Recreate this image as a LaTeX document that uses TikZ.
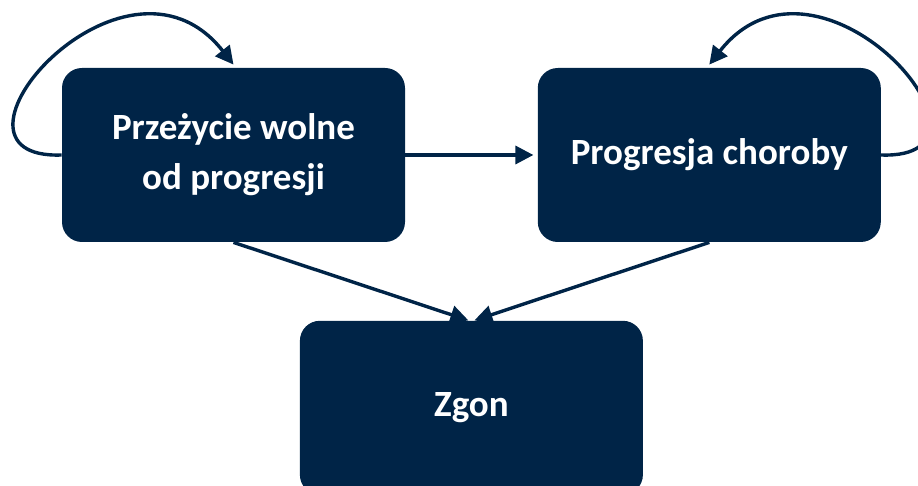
\documentclass[tikz,border=0pt]{standalone}
\usepackage{fontspec}
\setmainfont{Carlito}
\usetikzlibrary{positioning, calc, arrows.meta}
\definecolor{navy}{RGB}{0,36,71}
\tikzstyle{state} = [rectangle, rounded corners=10pt, minimum width=171.5pt, minimum height=87pt, text centered, align=center, fill=navy, text=white, font=\fontsize{18.5}{25}\selectfont\bfseries]
\tikzstyle{arrow} = [draw=navy, line width=1.7pt, -{Triangle[length=9pt,width=9pt]}]

\begin{document}
\begin{tikzpicture}[x=0.5pt, y=-0.5pt]
	\clip (0,0) rectangle (918,486);
	\node (pfs) [state] at (233.5,155) {Przeżycie wolne\\od progresji};
	\node (pd) [state, right=66pt of pfs] {Progresja choroby};
	\node (death) [state, below=39pt of $(pfs.south)!0.5!(pd.south)$] {Zgon};
	\draw [arrow, shorten >=2pt] (pfs) -- (pd);
	\draw [arrow] (pfs.south) -- ([xshift=-1.5pt]death.north);
	\draw [arrow] (pd.south) -- ([xshift=1.5pt]death.north);
	% self loops
	\draw [arrow] (pfs.west) .. controls +(-142,5) and +(-110,-140) .. ([yshift=1.5pt]pfs.north);
	\draw [arrow] (pd.east) .. controls +(142,5) and +(110,-140) .. ([yshift=1.5pt]pd.north);
\end{tikzpicture}
\end{document}
